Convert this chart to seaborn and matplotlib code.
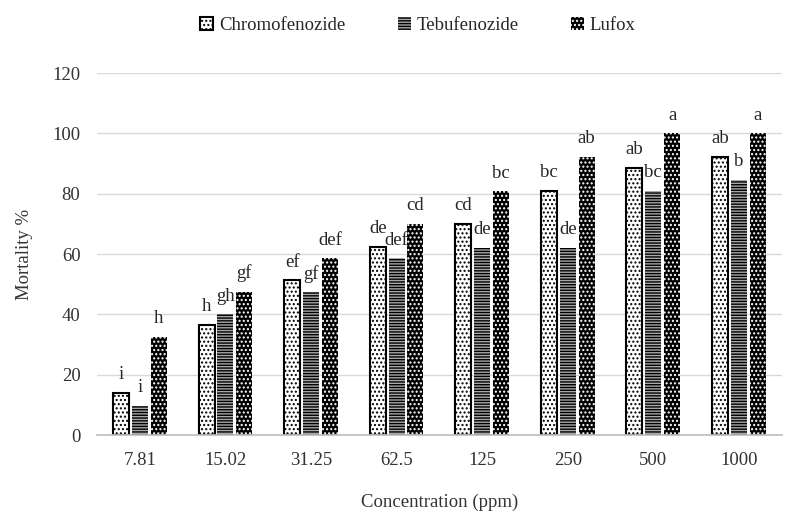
import numpy as np
import pandas as pd
import matplotlib
matplotlib.use("Agg")
import matplotlib.pyplot as plt
import seaborn as sns
from matplotlib.patches import Patch

concentrations = ["7.81", "15.02", "31.25", "62.5", "125", "250", "500", "1000"]
series_names = ["Chromofenozide", "Tebufenozide", "Lufox"]
chromofenozide = [14, 36.5, 51.3, 62.4, 70, 81, 88.6, 92.3]
tebufenozide = [9.6, 40, 47.3, 58.6, 62, 62, 81, 84.7]
lufox = [32.5, 47.4, 58.6, 70, 80.8, 92.2, 100, 100]
letters_chromo = ["i", "h", "ef", "de", "cd", "bc", "ab", "ab"]
letters_tebu = ["i", "gh", "gf", "def", "de", "de", "bc", "b"]
letters_lufox = ["h", "gf", "def", "cd", "bc", "ab", "a", "a"]

sns.set_theme(style="white")
plt.rcParams["font.family"] = ["Liberation Serif", "DejaVu Serif"]
plt.rcParams["hatch.linewidth"] = 1.0

df = pd.DataFrame({
    "Concentration": concentrations * 3,
    "Series": sum([[s] * len(concentrations) for s in series_names], []),
    "Mortality": chromofenozide + tebufenozide + lufox,
})

fig = plt.figure(figsize=(7.96, 5.15), dpi=100)
ax = fig.add_axes([0.122, 0.155, 0.86, 0.703])

sns.barplot(data=df, x="Concentration", y="Mortality", hue="Series",
            order=concentrations, hue_order=series_names,
            width=0.66, gap=0.15, ax=ax, legend=False, errorbar=None)

styles = [
    dict(facecolor="white", edgecolor="black", hatch="....", linewidth=1.5),
    dict(facecolor="#a8a8a8", edgecolor="black", hatch="------", linewidth=0),
    dict(facecolor="black", edgecolor="white", hatch="....", linewidth=0),
]
letters = [letters_chromo, letters_tebu, letters_lufox]
for cont, st, labs in zip(ax.containers, styles, letters):
    for bar, lab in zip(cont, labs):
        bar.set_facecolor(st["facecolor"])
        bar.set_edgecolor(st["edgecolor"])
        bar.set_hatch(st["hatch"])
        bar.set_linewidth(st["linewidth"])
        x = bar.get_x() + bar.get_width() / 2
        y = bar.get_height()
        ax.annotate(lab, (x, y), xytext=(0, 7), textcoords="offset points",
                    ha="center", va="bottom", fontsize=13.5)

ax.set_ylim(0, 120)
ax.set_yticks(np.arange(0, 121, 20))
ax.yaxis.grid(True, color="#d9d9d9", linewidth=1)
ax.set_axisbelow(True)
for s in ["top", "right", "left"]:
    ax.spines[s].set_visible(False)
ax.spines["bottom"].set_color("#bfbfbf")
ax.tick_params(axis="both", length=0, labelsize=13.5, colors="#333333")
ax.tick_params(axis="x", pad=12)
ax.tick_params(axis="y", pad=12)
ax.set_xlabel("Concentration (ppm)", fontsize=13.5, labelpad=18, color="#333333")
ax.set_ylabel("Mortality %", fontsize=13.5, labelpad=14, color="#333333")

handles = [Patch(facecolor=st["facecolor"], edgecolor=st["edgecolor"], hatch=st["hatch"],
                 linewidth=st["linewidth"] if st["linewidth"] else 0) for st in styles]
fig.legend(handles, series_names, loc="upper center", bbox_to_anchor=(0.525, 1.0),
           ncol=3, frameon=False, fontsize=13.5, handlelength=0.7, handleheight=0.7,
           handletextpad=0.3, columnspacing=2.8)

fig.savefig("out.png", dpi=100, facecolor="white")
